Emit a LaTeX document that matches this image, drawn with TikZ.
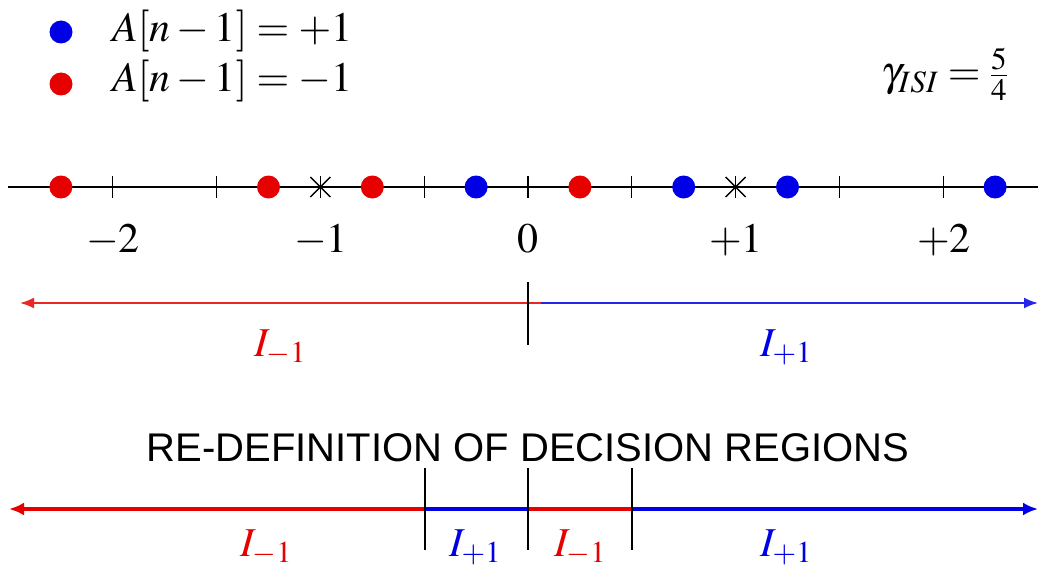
\documentclass[tikz,border=0pt]{standalone}
\usepackage[no-math]{fontspec}
\usepackage{mathptmx}
\newfontfamily\titlefont{Liberation Sans}
\usetikzlibrary{arrows.meta}
\definecolor{myred}{RGB}{230,0,0}
\definecolor{myblue}{RGB}{0,0,230}
\begin{document}
\begin{tikzpicture}[x=1pt,y=-1pt,
  reddot/.style={circle,fill=myred,inner sep=0pt,minimum size=23pt},
  bluedot/.style={circle,fill=myblue,inner sep=0pt,minimum size=23pt},
  tickmark/.style={line width=1.3pt},
  axisline/.style={line width=1.3pt},
  numlbl/.style={font=\fontsize{42}{46}\selectfont,anchor=base},
  leglbl/.style={font=\fontsize{42}{46}\selectfont,anchor=base west,inner sep=0pt},
  ilbl/.style={font=\fontsize{41}{44}\selectfont,anchor=base,inner sep=0pt},
  toparrow/.style={line width=2pt},
  botline/.style={line width=3.5pt},
  divider/.style={line width=2.8pt},
  title/.style={font=\fontsize{40}{44}\titlefont,anchor=base,inner sep=0pt}]
\useasboundingbox (0,0) rectangle (1038,567);
% legend
\node[bluedot] (lb) at (61,32) {};
\node[reddot] (lr) at (61,84) {};
\node[leglbl] (tb) at (112,42) {$A[n-1]=+1$};
\node[leglbl] (tr) at (112,92) {$A[n-1]=-1$};
\node[font=\fontsize{42}{46}\selectfont,anchor=base east,inner sep=0pt] (gam) at (1008,86) {$\gamma_{ISI}=\frac{5}{4}$};
% axis
\coordinate (axl) at (8,187);
\coordinate (axr) at (1038,187);
\draw[axisline] (axl) -- (axr);
\foreach \u in {-2,-1.5,-1,-0.5,0,0.5,1,1.5,2}{
  \draw[tickmark] ({528+207.6*\u},176) -- ({528+207.6*\u},198);
}
\foreach \u in {-1,1}{
  \draw[tickmark] ({528+207.6*\u-10},177) -- ({528+207.6*\u+10},197);
  \draw[tickmark] ({528+207.6*\u-10},197) -- ({528+207.6*\u+10},177);
}
\foreach \u/\n in {-2.25/r1,-1.25/r2,-0.75/r3,0.25/r4}{
  \node[reddot] (\n) at ({528+207.6*\u},187) {};
}
\foreach \u/\n in {-0.25/b1,0.75/b2,1.25/b3,2.25/b4}{
  \node[bluedot] (\n) at ({528+207.6*\u},187) {};
}
\node[numlbl] (m2) at (113,252) {$-2$};
\node[numlbl] (m1) at (321,252) {$-1$};
\node[numlbl] (z0) at (528,252) {$0$};
\node[numlbl] (p1) at (736,252) {$+1$};
\node[numlbl] (p2) at (944,252) {$+2$};
% top decision regions
\coordinate (tl) at (20,303);
\coordinate (tm) at (528,303);
\coordinate (tmr) at (541,303);
\coordinate (tr) at (1038,303);
\draw[toparrow,myblue!85,-{Latex[length=14pt,width=11pt]}] (tm) -- (tr);
\draw[toparrow,myred!85,-{Latex[length=14pt,width=11pt]}] (tmr) -- (tl);
\coordinate (vt) at (528,282);
\coordinate (vb) at (528,345);
\draw[line width=1.3pt] (vt) -- (vb);
\node[ilbl,text=myred] (im) at (280,356) {$I_{-1}$};
\node[ilbl,text=myblue] (ip) at (786,356) {$I_{+1}$};
% title
\node[title] (ttl) at (528,461) {RE-DEFINITION OF DECISION REGIONS};
% bottom regions
\coordinate (bl) at (9,509);
\coordinate (b1) at (425,509);
\coordinate (b2) at (528,509);
\coordinate (b3) at (632,509);
\coordinate (br) at (1038,509);
\draw[botline,myred,-{Latex[length=15pt,width=13pt]}] (b1) -- (bl);
\draw[botline,myblue] (b1) -- (b2);
\draw[botline,myred] (b2) -- (b3);
\draw[botline,myblue,-{Latex[length=15pt,width=13pt]}] (b3) -- (br);
\foreach \x/\n in {425/d1,528/d2,632/d3}{
  \coordinate (\n t) at (\x,468);
  \coordinate (\n b) at (\x,550);
  \draw[divider] (\n t) -- (\n b);
}
\node[ilbl,text=myred] (bi1) at (266,556) {$I_{-1}$};
\node[ilbl,text=myblue] (bi2) at (475,556) {$I_{+1}$};
\node[ilbl,text=myred] (bi3) at (580,556) {$I_{-1}$};
\node[ilbl,text=myblue] (bi4) at (786,556) {$I_{+1}$};
\end{tikzpicture}
\end{document}
